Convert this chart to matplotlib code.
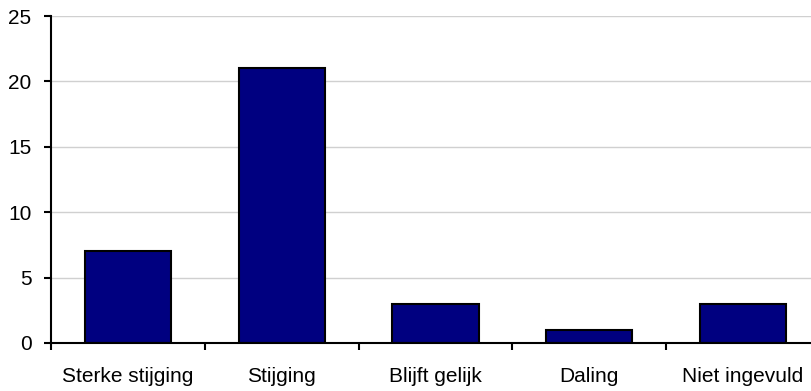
import matplotlib
matplotlib.use("Agg")
import matplotlib.pyplot as plt
import numpy as np

categories = ["Sterke stijging", "Stijging", "Blijft gelijk", "Daling", "Niet ingevuld"]
values = [7, 21, 3, 1, 3]
yticks = [0, 5, 10, 15, 20, 25]

plt.rcParams['font.family'] = ['Liberation Sans', 'DejaVu Sans']

fig = plt.figure(figsize=(8.11, 3.91), dpi=100)
ax = fig.add_axes([51 / 811, (391 - 343) / 391, 769 / 811, 327 / 391])

x = np.arange(len(categories))
ax.bar(x, values, width=0.56, color="#000080", edgecolor="black", linewidth=1.5, zorder=3)

ax.set_xlim(-0.5, len(categories) - 0.5)
ax.set_ylim(0, 25)
ax.set_yticks(yticks)
ax.set_yticklabels([str(t) for t in yticks], fontsize=15)

# category labels centred under bars, tick marks on category boundaries
ax.set_xticks(np.arange(-0.5, len(categories) - 0.5, 1.0))
ax.set_xticklabels([])
ax.set_xticks(x, minor=True)
ax.set_xticklabels(categories, minor=True, fontsize=15)
ax.tick_params(axis="x", which="minor", length=0, pad=17)
ax.tick_params(axis="x", which="major", length=5, width=1.5, direction="out")
ax.tick_params(axis="y", length=5, width=1.5, direction="out", pad=9)

ax.yaxis.grid(True, color="#d0d0d0", linewidth=1.0, zorder=0)
ax.set_axisbelow(True)

for side in ["top", "right"]:
    ax.spines[side].set_visible(False)
for side in ["left", "bottom"]:
    ax.spines[side].set_linewidth(1.5)
    ax.spines[side].set_zorder(4)

fig.savefig("out.png", dpi=100)
